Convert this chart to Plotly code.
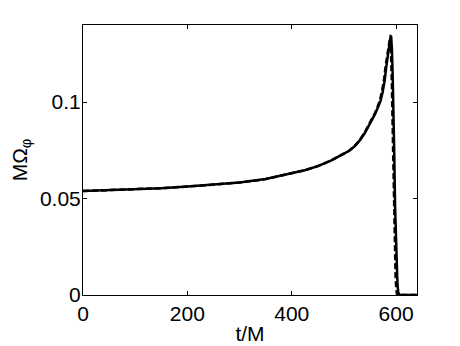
import plotly.graph_objects as go

# Solid curve (t/M, M*Omega_phi)
t_solid = [0, 50, 100, 150, 200, 250, 300, 350, 400, 425, 450, 475, 500, 510, 520, 530,
           540, 548, 555, 560, 565, 570, 574, 578, 581, 584, 586, 588, 589.5, 590.5,
           592, 593.5, 595, 596.5, 598, 599.5, 601, 602.5, 604, 606, 620, 640]
y_solid = [0.0539, 0.0543, 0.0548, 0.0554, 0.0562, 0.0571, 0.0583, 0.0601, 0.0630, 0.0647,
           0.0668, 0.0697, 0.0733, 0.0748, 0.0770, 0.0800, 0.0840, 0.0878, 0.0910, 0.0940,
           0.0972, 0.1005, 0.1050, 0.1110, 0.1180, 0.1240, 0.1280, 0.1320, 0.1342, 0.1340,
           0.1270, 0.1130, 0.0960, 0.0720, 0.0460, 0.0280, 0.0150, 0.0060, 0.0015, 0.0, 0.0, 0.0]

# Dashed curve
t_dashed = [0, 50, 100, 150, 200, 250, 300, 350, 400, 425, 450, 475, 500, 510, 520, 530,
            540, 548, 555, 560, 565, 569, 573, 577, 580, 583, 585, 587, 588.5, 589.5,
            590.5, 592, 593, 594.5, 596, 597.5, 599, 600.5, 602, 620, 640]
y_dashed = [0.0539, 0.0543, 0.0548, 0.0554, 0.0562, 0.0571, 0.0583, 0.0601, 0.0630, 0.0647,
            0.0668, 0.0697, 0.0733, 0.0748, 0.0771, 0.0802, 0.0843, 0.0882, 0.0915, 0.0946,
            0.0980, 0.1010, 0.1058, 0.1120, 0.1190, 0.1250, 0.1290, 0.1322, 0.1335, 0.1325,
            0.1260, 0.1080, 0.0920, 0.0650, 0.0400, 0.0220, 0.0090, 0.0025, 0.0, 0.0, 0.0]

x_ticks = [0, 200, 400, 600]
x_ticklabels = ["0", "200", "400", "600"]
y_ticks = [0, 0.05, 0.1]
y_ticklabels = ["0", "0.05", "0.1"]

fig = go.Figure()
fig.add_trace(go.Scatter(x=t_dashed, y=y_dashed, mode="lines",
                         line=dict(color="black", width=2.5, dash="6px,3px"),
                         showlegend=False))
fig.add_trace(go.Scatter(x=t_solid, y=y_solid, mode="lines",
                         line=dict(color="black", width=2.5),
                         showlegend=False))

axis_common = dict(showgrid=False, zeroline=False, showline=True, mirror="ticks",
                   linecolor="black", linewidth=1, ticks="inside", ticklen=4,
                   tickcolor="black", tickwidth=1,
                   tickfont=dict(family="Liberation Sans, Arial, sans-serif", size=21, color="black"))

fig.update_layout(
    width=460, height=346,
    margin=dict(l=75, r=51, t=17, b=59),
    paper_bgcolor="white", plot_bgcolor="white",
    font=dict(family="Liberation Sans, Arial, sans-serif", size=21, color="black"),
    xaxis=dict(range=[0, 640], tickvals=x_ticks, ticktext=x_ticklabels, automargin=True,
               title=dict(text="t/M", standoff=2, font=dict(size=21)), **axis_common),
    yaxis=dict(range=[0, 0.14], tickvals=y_ticks, ticktext=y_ticklabels, automargin=False,
               ticklabelstandoff=-3,
               title=dict(text="MΩ<sub>φ</sub>", font=dict(size=21)), **axis_common),
)

fig.write_html("out.html")
